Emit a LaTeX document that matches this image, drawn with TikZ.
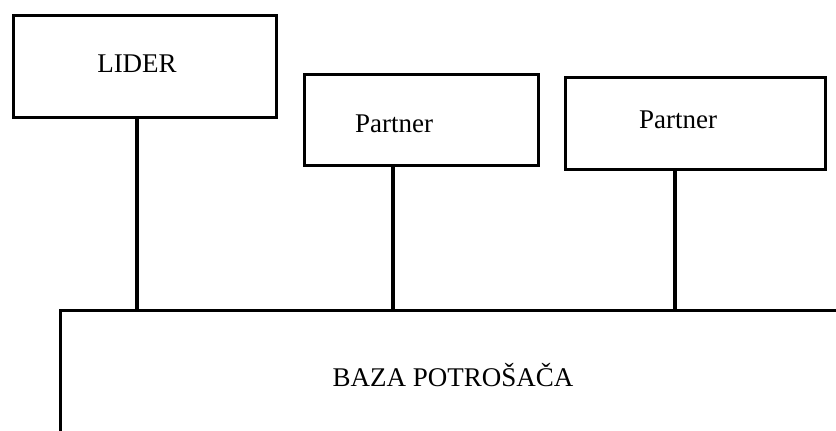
\documentclass[tikz,border=0pt]{standalone}
\usepackage{fontspec}
\setmainfont{Liberation Serif}
\begin{document}
\begin{tikzpicture}[x=1bp,y=-1bp,
  boxnode/.style={draw=black,line width=3bp,inner sep=0pt,anchor=north west},
  txt/.style={inner sep=0pt,text height=18bp,text depth=0pt,anchor=center,
    font=\fontsize{27bp}{32bp}\selectfont},
  conn/.style={draw=black,line width=4bp}]
\useasboundingbox (0,0) rectangle (836,430);
% boxes
\node[boxnode,minimum width=263bp,minimum height=102bp] (lider) at (12,14) {};
\node[boxnode,minimum width=234bp,minimum height=91bp] (p1) at (303,73) {};
\node[boxnode,minimum width=260bp,minimum height=92bp] (p2) at (564,76) {};
\node[boxnode,minimum width=900bp,minimum height=200bp] (base) at (59,309) {};
% texts
\node[txt] (tl) at (137,63) {LIDER};
\node[txt] (t1) at (394,123) {Partner};
\node[txt] (t2) at (678,119) {Partner};
\node[txt] (tb) at (453,377) {BAZA POTROŠAČA};
% connectors
\draw[conn] ([xshift=-8.5bp]lider.south) -- ([xshift=-8.5bp]lider.south |- base.north);
\draw[conn] ([xshift=-29bp]p1.south) -- ([xshift=-29bp]p1.south |- base.north);
\draw[conn] ([xshift=-21bp]p2.south) -- ([xshift=-21bp]p2.south |- base.north);
\end{tikzpicture}
\end{document}
